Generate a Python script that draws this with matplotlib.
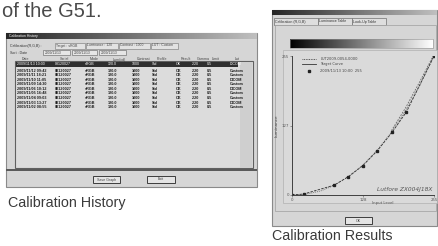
import matplotlib
matplotlib.use('Agg')
import matplotlib.pyplot as plt
import numpy as np
from matplotlib.patches import Rectangle

# --- data ---
heading = "of the G51."
caption_left = "Calibration History"
caption_right = "Calibration Results"

hist_headers = ["Date", "Serial", "Mode", "Lum(cd)", "Contrast", "Profile", "Result", "Gamma", "Limit", "Lut"]
hist_rows = [
    ["2009/11/13 10:00", "08120027", "sRGB", "120.0", "1000", "Std", "OK", "2.20", "0.5", "DICOM"],
    ["2009/11/12 09:42", "08120027", "sRGB", "120.0", "1000", "Std", "OK", "2.20", "0.5", "Custom"],
    ["2009/11/11 18:21", "08120027", "sRGB", "120.0", "1000", "Std", "OK", "2.20", "0.5", "Custom"],
    ["2009/11/10 11:05", "08120027", "sRGB", "120.0", "1000", "Std", "OK", "2.20", "0.5", "DICOM"],
    ["2009/11/09 14:30", "08120027", "sRGB", "120.0", "1000", "Std", "OK", "2.20", "0.5", "Custom"],
    ["2009/11/06 10:12", "08120027", "sRGB", "120.0", "1000", "Std", "OK", "2.20", "0.5", "DICOM"],
    ["2009/11/05 16:48", "08120027", "sRGB", "120.0", "1000", "Std", "OK", "2.20", "0.5", "Custom"],
    ["2009/11/04 09:03", "08120027", "sRGB", "120.0", "1000", "Std", "OK", "2.20", "0.5", "Custom"],
    ["2009/11/03 13:27", "08120027", "sRGB", "120.0", "1000", "Std", "OK", "2.20", "0.5", "DICOM"],
    ["2009/11/02 08:55", "08120027", "sRGB", "120.0", "1000", "Std", "OK", "2.20", "0.5", "Custom"],
]
hist_col_x = [17, 55, 85, 108, 132, 152, 176, 192, 207, 230]

# measured points (input level, luminance)
meas_x = [0.0, 0.41, 1.48, 1.98, 2.49, 3.00, 3.52, 4.03, 5.00]
meas_y = [0.0, 1.8, 18.0, 33.5, 53.7, 81.0, 114.7, 152.5, 255.0]
# target curve
targ_x = [0.0, 0.5, 1.0, 1.5, 2.0, 2.5, 3.0, 3.5, 4.0, 4.5, 5.0]
targ_y = [0.0, 1.6, 7.3, 18.0, 34.0, 55.0, 82.0, 115.0, 155.0, 201.0, 255.0]
# upper dashed line
upper_x = [3.5, 4.0, 4.5, 5.0]
upper_y = [118.0, 160.0, 208.0, 258.0]

legend_labels = ["LUT2009-0054-0000", "Target Curve", "2009/11/13 10:00  255"]
x_ticks = [0, 2.5, 5.0]
x_ticklabels = ["0", "128", "255"]

W, H = 439, 246
fig = plt.figure(figsize=(W / 100, H / 100), dpi=100)
ax = fig.add_axes([0, 0, 1, 1])
ax.set_xlim(0, W)
ax.set_ylim(H, 0)
ax.axis('off')

def box(x0, y0, x1, y1, fc, ec='none', lw=0.6, z=1):
    ax.add_patch(Rectangle((x0, y0), x1 - x0, y1 - y0, facecolor=fc, edgecolor=ec, linewidth=lw, zorder=z))

def grad(x0, y0, x1, y1, c0, c1, z=2):
    g = np.linspace(c0, c1, 256).reshape(1, -1)
    ax.imshow(g, cmap='gray', vmin=0, vmax=1, extent=(x0, x1, y1, y0), aspect='auto', zorder=z)

fnt = 'Liberation Sans'

ax.text(2, 17, heading, fontsize=14.5, family=fnt, color='#4a4a4a', va='baseline')

# ---- left window : history ----
box(6, 33, 257, 187, '#d6d6d6', '#8a8a8a', 0.8)
grad(6, 33, 257, 39, 0.15, 0.75)
ax.text(9, 36, "Calibration History", fontsize=2.5, color='white', va='center', family=fnt, zorder=3)

ax.text(10, 45.5, "Calibration(R,G,B) :", fontsize=2.6, color='#333333', va='center', family=fnt)
for bx0, bx1, t in [(55, 85, "Target : sRGB"), (86, 118, "Luminance : 120"), (119, 150, "Contrast : 1000"), (151, 178, "LUT : Custom")]:
    box(bx0, 42.5, bx1, 48.5, '#e2e2e2', '#888888', 0.5, 2)
    ax.text(bx0 + 1.5, 45.5, t, fontsize=2.4, color='#444444', va='center', family=fnt, zorder=3)
ax.text(10, 52.5, "Sort : Date", fontsize=2.6, color='#333333', va='center', family=fnt)
for bx0, bx1 in [(43, 70), (72, 97), (99, 126)]:
    box(bx0, 50, bx1, 55, '#e6e6e6', '#777777', 0.5, 2)
    ax.text(bx0 + 1.5, 52.5, "2009/11/13", fontsize=2.4, color='#444444', va='center', family=fnt, zorder=3)

for cx, h in zip(hist_col_x, hist_headers):
    ax.text(cx + 5, 59.5, h, fontsize=2.6, color='#444444', va='center', family=fnt)

box(15, 61, 253, 168, '#dcdcdc', '#606060', 0.8, 2)
box(240, 62, 252.5, 167.5, '#cfcfcf', 'none', 0.5, 2)
box(16, 62, 238, 66.5, '#2f2f2f', 'none', 0.5, 3)
for cx, t in zip(hist_col_x, hist_rows[0]):
    ax.text(cx, 64.3, t, fontsize=2.6, color='white', va='center', family=fnt, zorder=4)
for i, row in enumerate(hist_rows[1:]):
    yy = 70.5 + i * 4.6
    for cx, t in zip(hist_col_x, row):
        ax.text(cx, yy, t, fontsize=2.7, color='#1e1e1e', va='center', family=fnt, weight='bold', zorder=4)

box(6, 168.5, 257, 171, '#5a5a5a', 'none', 0.5, 2)
for bx0, bx1, t in [(93, 120, "Save Graph"), (147, 175, "Exit")]:
    box(bx0, 176, bx1, 183, '#e4e4e4', '#3c3c3c', 0.7, 2)
    ax.text((bx0 + bx1) / 2, 179.5, t, fontsize=2.6, color='#444444', ha='center', va='center', family=fnt, zorder=3)

ax.text(8, 202.5, caption_left, fontsize=10.3, color='#3a3a3a', va='center', family=fnt)

# ---- right window : results ----
box(272, 10, 437, 226, '#d6d6d6', '#8a8a8a', 0.8)
grad(272, 10, 437, 15, 0.15, 0.75)
for tx0, tx1, t in [(274, 318, "Calibration (R,G,B)"), (318, 352, "Luminance Table"), (352, 386, "Look-Up Table")]:
    box(tx0, 18, tx1, 25, '#dedede', '#707070', 0.5, 2)
    ax.text(tx0 + 1.5, 21.5, t, fontsize=2.6, color='#333333', va='center', family=fnt, zorder=3)
box(275, 25, 436, 211, 'none', '#a8a8a8', 0.6, 2)
grad(290, 39, 433, 48, 0.0, 1.0)
box(290, 39, 433, 48, 'none', '#909090', 0.4, 3)
box(283, 50, 437, 203, '#dadada', '#b0b0b0', 0.5, 2)
box(345, 217, 372, 224, '#e4e4e4', '#3c3c3c', 0.7, 2)
ax.text(358.5, 220.5, "OK", fontsize=2.6, color='#444444', ha='center', va='center', family=fnt, zorder=3)
ax.text(272, 236, caption_right, fontsize=10.3, color='#3a3a3a', va='center', family=fnt)

# inset plot
l, r, t, b = 292, 434, 56, 195
pa = fig.add_axes([l / W, 1 - b / H, (r - l) / W, (b - t) / H])
pa.set_facecolor('none')
pa.set_xlim(0, 5.0)
pa.set_ylim(0, 255)
for s in ['top', 'right']:
    pa.spines[s].set_visible(False)
for s in ['left', 'bottom']:
    pa.spines[s].set_color('#404040')
    pa.spines[s].set_linewidth(0.7)
pa.plot(targ_x, targ_y, ls=(0, (1, 1)), color='#777777', lw=0.7)
pa.plot(upper_x, upper_y, ls=(0, (2, 1.5)), color='#666666', lw=0.6)
pa.plot(meas_x, meas_y, ls=(0, (3, 1.5)), color='#333333', lw=0.6,
        marker='s', ms=1.8, mfc='#222222', mec='#222222')
pa.set_xticks(x_ticks)
pa.set_xticklabels(x_ticklabels)
pa.set_yticks([0, 127, 255])
pa.set_yticklabels(["0", "127", "255"])
pa.tick_params(labelsize=2.8, length=1.2, width=0.4, pad=1, colors='#555555')
pa.set_ylabel("Luminance", fontsize=3, color='#444444', labelpad=2)
pa.text(3.2, -14, "Input Level", fontsize=2.8, color='#555555', ha='center', va='center')
pa.text(4.95, 10, "Lutfore ZX004J18X", fontsize=4.2, color='#555555', ha='right', va='center', style='italic')
hy = [250, 240, 228]
hs = [(0, (1, 1)), '-', 'none']
for yy, lab, ls in zip(hy, legend_labels, hs):
    if ls == 'none':
        pa.plot([0.6], [yy], marker='s', ms=1.5, color='#222222')
    else:
        pa.plot([0.35, 0.85], [yy, yy], ls=ls, color='#333333', lw=0.6)
    pa.text(1.0, yy, lab, fontsize=2.6, color='#444444', va='center')

fig.savefig('out.png', dpi=100)
